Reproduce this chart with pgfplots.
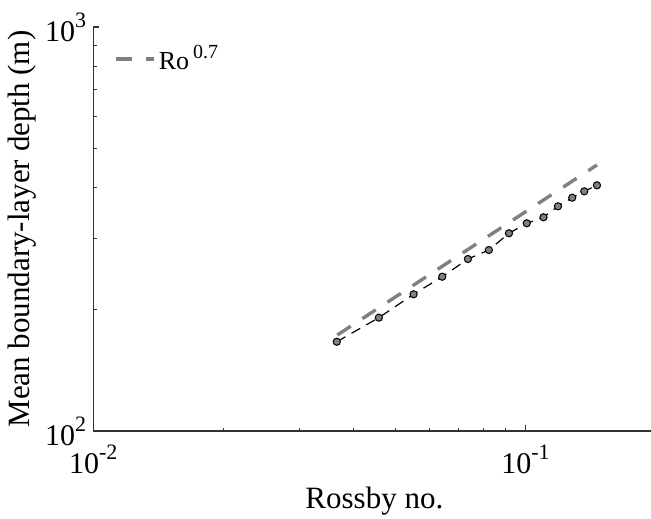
\documentclass[border=0pt]{standalone}
\usepackage{pgfplots}
\pgfplotsset{compat=1.18}
\usepackage{fontspec}
\setmainfont{Liberation Serif}
\usetikzlibrary{calc}
\definecolor{fitgray}{RGB}{128,128,128}
\definecolor{mkgray}{RGB}{128,128,128}
\definecolor{axgray}{RGB}{50,50,50}
% power-of-ten tick label in the text font
\newcommand{\pw}[1]{10\raisebox{7pt}{\fontsize{11}{11}\selectfont #1}}

\begin{document}
\begin{tikzpicture}
\begin{axis}[
  name=ax,
  xmode=log, ymode=log,
  scale only axis,
  width=281.1pt, height=202pt,
  xmin=0.01, xmax=0.2, ymin=100, ymax=1000,
  axis x line=bottom, axis y line=left,
  axis line style={-, axgray, line width=0.6pt},
  every tick/.style={axgray, line width=0.6pt},
  tick align=inside,
  major tick length=3pt, minor tick length=1.7pt,
  xtick={0.01,0.1}, xticklabels={\pw{-2},\pw{-1}},
  minor xtick={0.02,0.03,0.04,0.05,0.06,0.07,0.08,0.09,0.2},
  ytick={100,1000}, yticklabels={\pw{2},\pw{3}},
  minor ytick={200,300,400,500,600,700,800,900},
  tick label style={font=\fontsize{15}{15}\selectfont},
  xticklabel style={yshift=-3.5pt},
  label style={font=\fontsize{15.5}{15.5}\selectfont},
  xlabel={Rossby no.},
  xlabel style={yshift=0.5pt},
  ylabel={Mean boundary-layer depth (m)},
  ylabel style={yshift=-2.5pt},
  legend style={at={(0.0368,0.921)}, anchor=west, draw=none, fill=none,
    inner sep=0pt, font=\fontsize{13}{13}\selectfont,
    nodes={inner sep=1.5pt}},
  legend cell align=left,
  legend image code/.code={\draw[#1] (0pt,0pt) -- (19pt,0pt);},
  clip=false,
]
\addplot[fitgray, line width=1.7pt, dash pattern=on 8pt off 7pt]
  coordinates {(0.0367,172.8) (0.1464,455.4)};
\addlegendentry{Ro\kern2pt\raisebox{5.3pt}{\fontsize{10}{10}\selectfont 0.7}}
\addplot[black, line width=0.6pt, dash pattern=on 5pt off 3.5pt, forget plot,
  mark=*, mark size=1.8pt,
  mark options={solid, fill=mkgray, draw=black, line width=0.5pt}]
  coordinates {
    (0.0366,166.3) (0.0458,190.8) (0.0551,218.0) (0.0642,240.9)
    (0.0736,266.5) (0.0823,280.5) (0.0916,308.6) (0.1007,326.7)
    (0.1101,338.1) (0.1189,359.9) (0.1283,378.0) (0.1368,392.0)
    (0.1464,405.6)
  };
\end{axis}
\pgfresetboundingbox
\path ($(ax.south west)+(-46.65pt,-43.5pt)$) rectangle ($(ax.north west)+(278.85pt,13.5pt)$);
\end{tikzpicture}
\end{document}
